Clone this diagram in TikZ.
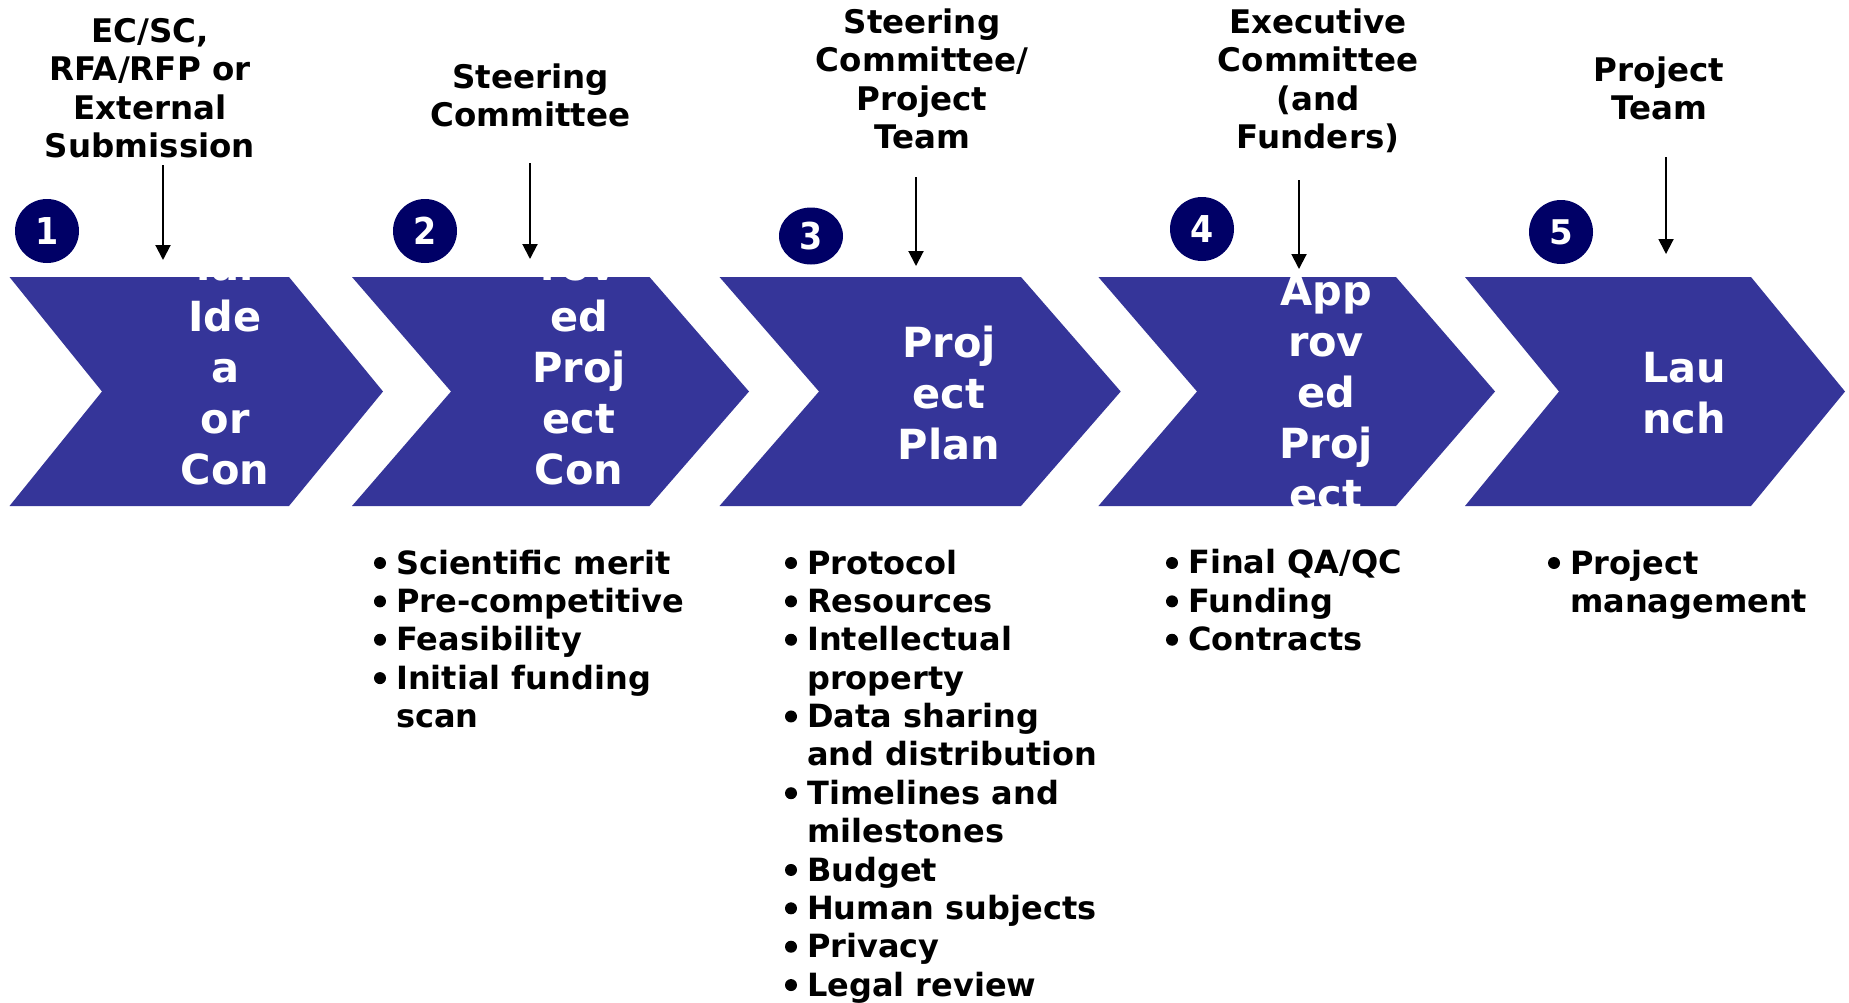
\documentclass[tikz,border=0pt]{standalone}
\usepackage{fontspec}
\setmainfont{DejaVu Sans}
\newfontfamily\numfont{DejaVu Sans Condensed}
\usetikzlibrary{arrows.meta,shapes.geometric}
\definecolor{chev}{RGB}{53,53,153}
\definecolor{navy}{RGB}{0,0,102}
\begin{document}
\begin{tikzpicture}[x=1pt,y=-1pt,
  chevfill/.style={fill=chev},
  numdisc/.style={circle,fill=navy,minimum size=64pt,inner sep=0pt,text=white,font=\numfont\bfseries\fontsize{37}{37}\selectfont},
  toplabel/.style={align=center,anchor=base,inner sep=0pt,font=\bfseries\fontsize{32.5}{38.5}\selectfont},
  chevtext/.style={align=center,anchor=base,inner sep=0pt,text=white,font=\bfseries\fontsize{41.5}{51}\selectfont},
  listtext/.style={align=left,anchor=base west,inner sep=0pt,font=\bfseries\fontsize{32}{38.37}\selectfont},
  bulletdot/.style={fill=black},
  feeder/.style={line width=2pt,-{Triangle[width=15pt,length=15pt]}}]
\useasboundingbox[fill=white] (0,0) rectangle (1849,1002);

% chevrons with clipped text (node base = baseline of last line)
\begin{scope}
  \clip (9.5,277) -- (289,277) -- (383,391.5) -- (289,506) -- (9.5,506) -- (102,391.5) -- cycle;
  \fill[chevfill] (0,0) rectangle (1849,1002);
  \node[chevtext] (t1) at (225,484.5) {ial\\Ide\\a\\or\\Con};
\end{scope}
\begin{scope}
  \clip (352,277) -- (649.5,277) -- (749,391.5) -- (649.5,506) -- (352,506) -- (451,391.5) -- cycle;
  \fill[chevfill] (0,0) rectangle (1849,1002);
  \node[chevtext] (t2) at (579,484) {rov\\ed\\Proj\\ect\\Con};
\end{scope}
\begin{scope}
  \clip (719.5,277) -- (1021,277) -- (1120.7,391.5) -- (1021,506) -- (719.5,506) -- (819,391.5) -- cycle;
  \fill[chevfill] (0,0) rectangle (1849,1002);
  \node[chevtext] (t3) at (949,459.3) {Proj\\ect\\Plan};
\end{scope}
\begin{scope}
  \clip (1098.4,277) -- (1396,277) -- (1495,391.5) -- (1396,506) -- (1098.4,506) -- (1197,391.5) -- cycle;
  \fill[chevfill] (0,0) rectangle (1849,1002);
  \node[chevtext] (t4) at (1326,509) {App\\rov\\ed\\Proj\\ect};
\end{scope}
\begin{scope}
  \clip (1465,277) -- (1751,277) -- (1845,391.5) -- (1751,506) -- (1465,506) -- (1559,391.5) -- cycle;
  \fill[chevfill] (0,0) rectangle (1849,1002);
  \node[chevtext] (t5) at (1684,433.3) {Lau\\nch};
\end{scope}

% numbered discs
\node[numdisc] (c1) at (47,231) {1};
\node[numdisc] (c2) at (425,231) {2};
\node[numdisc,ellipse,minimum width=64pt,minimum height=57pt] (c3) at (811,236) {3};
\node[numdisc] (c4) at (1202,229) {4};
\node[numdisc,font=\bfseries\fontsize{34}{34}\selectfont] (c5) at (1561,232) {5};

% top labels
\node[toplabel] (l1) at (150,157.9) {EC/SC,\\RFA/RFP or\\External\\Submission};
\node[toplabel] (l2) at (530.5,126.6) {Steering\\Committee};
\node[toplabel] (l3) at (922,148.8) {Steering\\Committee/\\Project\\Team};
\node[toplabel] (l4) at (1318,148.8) {Executive\\Committee\\(and\\Funders)};
\node[toplabel] (l5) at (1659,119.6) {Project\\Team};

% feeder arrows
\coordinate (a1s) at (163,165);  \coordinate (a1e) at (163,260);
\coordinate (a2s) at (530,163);  \coordinate (a2e) at (530,259);
\coordinate (a3s) at (916,177);  \coordinate (a3e) at (916,266);
\coordinate (a4s) at (1299,180); \coordinate (a4e) at (1299,269);
\coordinate (a5s) at (1666,157); \coordinate (a5e) at (1666,254);
\draw[feeder] (a1s) -- (a1e);
\draw[feeder] (a2s) -- (a2e);
\draw[feeder] (a3s) -- (a3e);
\draw[feeder] (a4s) -- (a4e);
\draw[feeder] (a5s) -- (a5e);

% bullet lists
\node[listtext] (b2) at (396,727.5) {Scientific merit\\Pre-competitive\\Feasibility\\Initial funding\\scan};
\foreach \k in {0,1,2,3} \fill[bulletdot] (380,563+38.37*\k) circle[radius=6];
\node[listtext] (b3) at (807,996.1) {Protocol\\Resources\\Intellectual\\property\\Data sharing\\and distribution\\Timelines and\\milestones\\Budget\\Human subjects\\Privacy\\Legal review};
\foreach \k in {0,1,2,4,6,8,9,10,11} \fill[bulletdot] (791,563+38.37*\k) circle[radius=6];
\node[listtext] (b4) at (1188,650.7) {Final QA/QC\\Funding\\Contracts};
\foreach \k in {0,1,2} \fill[bulletdot] (1172,563+38.37*\k) circle[radius=6];
\node[listtext] (b5) at (1570,612.4) {Project\\management};
\fill[bulletdot] (1554,563) circle[radius=6];
\end{tikzpicture}
\end{document}
